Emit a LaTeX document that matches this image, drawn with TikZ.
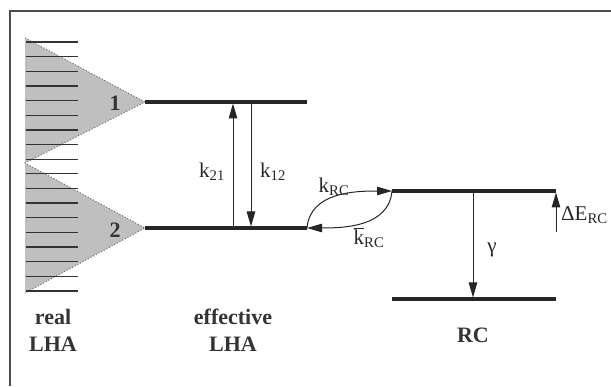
\documentclass[tikz,border=0pt]{standalone}
\usepackage{fontspec}
\setmainfont{Liberation Serif}
\usetikzlibrary{arrows.meta}
\begin{document}
\begin{tikzpicture}[x=1pt,y=1pt,
  level/.style={line width=3.4pt,draw=black!85},
  tick/.style={line width=1.3pt,draw=black!80},
  rate/.style={line width=1pt,draw=black!85,-{Triangle[length=15pt,width=8.5pt]}},
  lab/.style={font=\fontsize{21}{23}\selectfont,inner sep=0pt,text=black!85},
  blab/.style={font=\fontsize{22}{24}\selectfont\bfseries,inner sep=0pt,text=black!80},
  frame/.style={line width=1.3pt,draw=black!70}]
\useasboundingbox (0,0) rectangle (611,386);
% frame
\coordinate (F0) at (10,0);
\coordinate (F1) at (10,375);
\coordinate (F2) at (611,375);
\draw[frame] (F0) -- (F1) -- (F2);
% band triangles
\coordinate (T1a) at (25,348);
\coordinate (T1b) at (145,284);
\coordinate (Tm) at (25,223);
\coordinate (T2b) at (145,158);
\coordinate (T2a) at (25,93);
\fill[black!25] (T1a) -- (T1b) -- (Tm) -- cycle;
\fill[black!25] (Tm) -- (T2b) -- (T2a) -- cycle;
\draw[black!60,dotted,line width=1pt] (T1a) -- (T1b) -- (Tm) -- (T2b) -- (T2a);
% ticks
\foreach \i in {0,...,17}{
  \draw[tick] (26,{344-\i*14.65}) -- (78,{344-\i*14.65});
}
% levels
\coordinate (L1a) at (145,284);
\coordinate (L1b) at (307,284);
\coordinate (L2a) at (145,158);
\coordinate (L2b) at (307,158);
\coordinate (R1a) at (392,195);
\coordinate (R1b) at (556,195);
\coordinate (R2a) at (392,87);
\coordinate (R2b) at (556,87);
\draw[level] (L1a) -- (L1b);
\draw[level] (L2a) -- (L2b);
\draw[level] (R1a) -- (R1b);
\draw[level] (R2a) -- (R2b);
% rate arrows
\coordinate (k21s) at (233,158);
\coordinate (k21e) at (233,282.5);
\coordinate (k12s) at (251,284);
\coordinate (k12e) at (251,159.5);
\draw[rate] (k21s) -- (k21e);
\draw[rate] (k12s) -- (k12e);
\coordinate (gs) at (473,195);
\coordinate (ge) at (473,88.5);
\draw[rate] (gs) -- (ge);
\coordinate (des) at (556,154);
\coordinate (dee) at (556,193.5);
\draw[rate] (des) -- (dee);
% loop
\draw[rate] (L2b) to[out=85,in=180] (R1a);
\draw[rate] (R1a) to[out=-95,in=0] (L2b);
% labels
\node[blab] (n1) at (115,283) {1};
\node[blab] (n2) at (115,156) {2};
\node[lab] (k21) at (212,214) {k\textsubscript{21}};
\node[lab] (k12) at (273,214) {k\textsubscript{12}};
\node[lab] (kRC) at (334,199) {k\textsubscript{RC}};
\node[lab] (kbRC) at (369,148) {$\overline{\mbox{k}}$\textsubscript{RC}};
\node[lab] (gam) at (492,136) {γ};
\node[lab,anchor=west] (dE) at (561,171) {ΔE\textsubscript{RC}};
\node[blab] (real) at (53,69) {real};
\node[blab] (lha1) at (53,42) {LHA};
\node[blab] (eff) at (233,69) {effective};
\node[blab] (lha2) at (233,42) {LHA};
\node[blab] (rc) at (473,51) {RC};
\end{tikzpicture}
\end{document}
